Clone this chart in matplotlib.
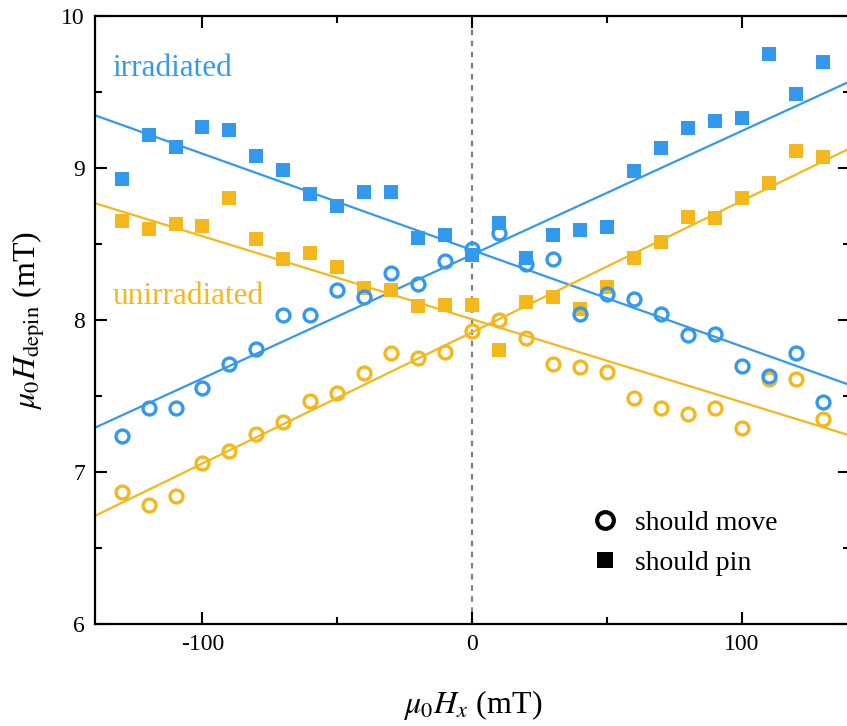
import numpy as np
import matplotlib
matplotlib.use("Agg")
import matplotlib.pyplot as plt
from matplotlib.lines import Line2D
from matplotlib.ticker import MultipleLocator

plt.rcParams['font.family'] = ['Liberation Serif', 'DejaVu Serif']
plt.rcParams['mathtext.fontset'] = 'stix'

# ---- data ----
hx = [-130, -120, -110, -100, -90, -80, -70, -60, -50, -40, -30, -20, -10, 0,
      10, 20, 30, 40, 50, 60, 70, 80, 90, 100, 110, 120, 130]

irr_pin = [8.93, 9.22, 9.14, 9.27, 9.25, 9.08, 8.99, 8.83, 8.75, 8.84, 8.84, 8.54, 8.56, 8.43,
           8.64, 8.41, 8.56, 8.59, 8.61, 8.98, 9.13, 9.26, 9.31, 9.33, 9.75, 9.49, 9.70]
irr_move = [7.24, 7.42, 7.42, 7.55, 7.71, 7.81, 8.03, 8.03, 8.20, 8.15, 8.31, 8.24, 8.39, 8.47,
            8.57, 8.37, 8.40, 8.04, 8.17, 8.14, 8.04, 7.90, 7.91, 7.70, 7.63, 7.78, 7.46]
unirr_pin = [8.65, 8.60, 8.63, 8.62, 8.80, 8.53, 8.40, 8.44, 8.35, 8.21, 8.20, 8.09, 8.10, 8.10,
             7.80, 8.12, 8.15, 8.07, 8.22, 8.41, 8.51, 8.68, 8.67, 8.80, 8.90, 9.11, 9.07]
unirr_move = [6.87, 6.78, 6.84, 7.06, 7.14, 7.25, 7.33, 7.47, 7.52, 7.65, 7.78, 7.75, 7.79, 7.93,
              8.00, 7.88, 7.71, 7.69, 7.66, 7.49, 7.42, 7.38, 7.42, 7.29, 7.61, 7.61, 7.35]

# linear fits: (slope, intercept)
irr_fit_up = (0.00814, 8.43)
irr_fit_down = (-0.00634, 8.46)
unirr_fit_up = (0.00864, 7.92)
unirr_fit_down = (-0.00546, 8.005)

x_range = [-140, 140]
x_ticks = [-100, 0, 100]
y_ticks = [6, 7, 8, 9, 10]

blue = '#3399EE'
yellow = '#F5B81C'

fig = plt.figure(figsize=(8.47, 7.26), dpi=100)
ax = fig.add_axes([94.6 / 847, 1 - 624 / 726, (849.8 - 94.6) / 847, (624 - 16) / 726])

ax.axvline(0, color='#808080', ls=(0, (2.5, 2.5)), lw=1.6, zorder=1)

xf = np.array(x_range, dtype=float)
for (m, b), c in [(irr_fit_up, blue), (irr_fit_down, blue),
                  (unirr_fit_up, yellow), (unirr_fit_down, yellow)]:
    ax.plot(xf, m * xf + b, color=c, lw=1.6, zorder=2)

sq = dict(marker='s', ls='none', ms=9.5, mew=0, zorder=3)
ci = dict(marker='o', ls='none', ms=9.3, mew=2.4, mfc='none', zorder=4)
ax.plot(hx, unirr_pin, color=yellow, **sq)
ax.plot(hx, irr_pin, color=blue, **sq)
ax.plot(hx, unirr_move, mec=yellow, **ci)
ax.plot(hx, irr_move, mec=blue, **ci)

ax.set_xlim(*x_range)
ax.set_ylim(6, 10)
ax.set_xticks(x_ticks)
ax.set_yticks(y_ticks)
ax.set_xticklabels([str(t) for t in x_ticks])
ax.xaxis.set_minor_locator(MultipleLocator(50))
ax.yaxis.set_minor_locator(MultipleLocator(0.5))
ax.tick_params(which='both', direction='in', top=True, right=True, width=1.5,
               labelsize=17, pad=7)
ax.tick_params(which='major', length=8.5)
ax.tick_params(which='minor', length=5)
for s in ax.spines.values():
    s.set_linewidth(1.6)

ax.set_xlabel(r'$\mu_0H_x$ (mT)', fontsize=23, labelpad=24)
ax.set_ylabel(r'$\mu_0H_{\mathrm{depin}}$ (mT)', fontsize=23, labelpad=10)

ax.text(0.024, 0.914, 'irradiated', color=blue, fontsize=22.5, va='center', ha='left',
        transform=ax.transAxes)
ax.text(0.024, 0.538, 'unirradiated', color=yellow, fontsize=22.5, va='center', ha='left',
        transform=ax.transAxes)

handles = [Line2D([], [], marker='o', ls='none', ms=12, mew=3.0, mfc='none', mec='black'),
           Line2D([], [], marker='s', ls='none', ms=12, mew=0, color='black')]
ax.legend(handles, ['should move', 'should pin'], loc='center left',
          bbox_to_anchor=(0.657, 0.133), frameon=False, fontsize=20,
          handlelength=1.0, handletextpad=0.6, borderpad=0, borderaxespad=0,
          labelspacing=0.5)

fig.savefig('out.png', dpi=100)
